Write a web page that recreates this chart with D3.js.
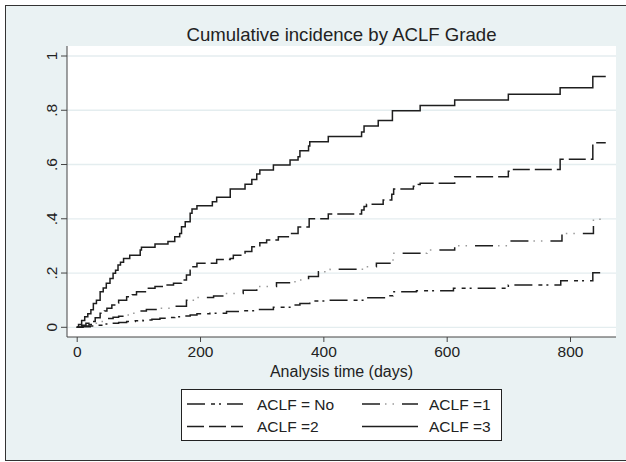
<!DOCTYPE html>
<html>
<head>
<meta charset="utf-8">
<script src="https://cdn.jsdelivr.net/npm/d3@7"></script>
<style>
  body { margin: 0; background: #fff; }
  svg { display: block; font-family: "Liberation Sans", Arial, sans-serif; }
</style>
</head>
<body>
<div id="chart"></div>
<script>
// event times (days) and cumulative incidence, one pair of arrays per grade
const timesNo = [0, 10, 22, 32, 45, 54, 68, 81, 95, 108, 122, 135, 150, 159, 172, 184, 195, 216, 243, 270, 292, 319, 351, 362, 378, 403, 470, 499, 513, 551, 611, 700, 785, 837];
const cifNo   = [0, .002, .005, .008, .012, .015, .018, .021, .024, .027, .03, .033, .036, .039, .042, .045, .05, .052, .058, .061, .066, .074, .082, .088, .097, .1, .109, .116, .131, .135, .144, .156, .172, .201];

const times1 = [0, 10, 20, 27, 35, 43, 52, 59, 68, 78, 88, 97, 113, 135, 157, 178, 192, 222, 243, 270, 292, 324, 354, 376, 392, 411, 465, 486, 508, 513, 568, 613, 703, 787, 838];
const cif1   = [0, .005, .01, .015, .021, .027, .032, .037, .041, .045, .052, .06, .066, .07, .078, .1, .11, .115, .125, .137, .15, .164, .174, .187, .205, .214, .223, .236, .244, .273, .285, .301, .318, .346, .398];

const times2 = [0, 8, 15, 22, 30, 38, 45, 49, 57, 63, 68, 81, 90, 97, 113, 127, 140, 157, 170, 178, 184, 187, 195, 227, 249, 254, 273, 284, 297, 308, 327, 346, 359, 377, 408, 462, 466, 470, 497, 511, 514, 546, 554, 557, 613, 700, 704, 784, 837];
const cif2   = [0, .008, .015, .021, .035, .052, .06, .07, .082, .09, .1, .113, .12, .131, .144, .15, .156, .162, .174, .193, .21, .223, .236, .25, .254, .266, .279, .297, .312, .322, .334, .346, .37, .4, .418, .432, .445, .454, .469, .49, .51, .52, .526, .531, .555, .575, .582, .619, .68];

const times3 = [0, 3, 8, 13, 18, 23, 27, 32, 38, 43, 48, 54, 59, 63, 67, 71, 76, 86, 103, 105, 127, 148, 159, 167, 170, 176, 184, 187, 195, 220, 227, 249, 273, 284, 292, 297, 319, 346, 359, 362, 376, 378, 408, 462, 466, 489, 512, 557, 613, 700, 784, 837];
const cif3   = [0, .01, .025, .039, .05, .065, .088, .1, .131, .145, .162, .18, .199, .21, .23, .24, .254, .266, .285, .295, .307, .316, .334, .346, .371, .389, .42, .436, .448, .463, .479, .51, .527, .545, .565, .58, .598, .617, .629, .651, .668, .684, .703, .72, .742, .762, .798, .818, .838, .859, .883, .924];

const lastTime = 858; // follow-up ends here for all groups
const seriesNames = ["ACLF = No", "ACLF =1", "ACLF =2", "ACLF =3"];
const xTicks = [0, 200, 400, 600, 800];
const yTicks = [0, .2, .4, .6, .8, 1];
const yTickLabels = ["0", ".2", ".4", ".6", ".8", "1"];

const W = 626, H = 462;
const bg = "#eaf2f3";
const ink = "#1e1e1e";

const svg = d3.select("#chart").append("svg")
  .attr("width", W)
  .attr("height", H);

// outer frame of the graph
svg.append("rect")
  .attr("x", 5.5).attr("y", 5.5)
  .attr("width", 625).attr("height", 455)
  .attr("fill", bg)
  .attr("stroke", "#333")
  .attr("stroke-width", 1);

// plot region
const plot = { left: 67, right: 616, top: 46, bottom: 337 };
svg.append("rect")
  .attr("x", plot.left).attr("y", plot.top)
  .attr("width", plot.right - plot.left)
  .attr("height", plot.bottom - plot.top)
  .attr("fill", "#fff");

const x = d3.scaleLinear().domain([0, 800]).range([76.7, 570]);
const y = d3.scaleLinear().domain([0, 1]).range([327.3, 56]);

// grid lines
svg.append("g")
  .selectAll("line")
  .data(yTicks)
  .join("line")
  .attr("x1", plot.left).attr("x2", plot.right)
  .attr("y1", d => y(d)).attr("y2", d => y(d))
  .attr("stroke", "#e4edef")
  .attr("stroke-width", 1.3);

// y axis
const yAxis = svg.append("g")
  .attr("transform", `translate(${plot.left},0)`)
  .call(d3.axisLeft(y).tickValues(yTicks).tickSize(6).tickPadding(4)
    .tickFormat((d, i) => yTickLabels[i]));
yAxis.select(".domain").attr("d", `M0,${plot.top}V${plot.bottom}`);
yAxis.selectAll("text")
  .attr("transform", d => `rotate(-90,-10,${y(d)})`)
  .attr("x", -10).attr("dy", 0)
  .attr("text-anchor", "middle")
  .attr("y", d => y(d));
yAxis.selectAll(".tick").attr("transform", null);
yAxis.selectAll(".tick line").attr("y1", d => y(d)).attr("y2", d => y(d));

// x axis
const xAxis = svg.append("g")
  .attr("transform", `translate(0,${plot.bottom})`)
  .call(d3.axisBottom(x).tickValues(xTicks).tickSize(5).tickPadding(4));
xAxis.select(".domain").attr("d", `M${plot.left},0H${plot.right}`);

svg.selectAll(".domain, .tick line").attr("stroke", "#444");
svg.selectAll(".tick text")
  .attr("fill", "#222")
  .style("font-size", "15.5px")
  .style("font-family", "Liberation Sans, Arial, sans-serif");

svg.append("text")
  .attr("x", (plot.left + plot.right) / 2)
  .attr("y", 377)
  .attr("text-anchor", "middle")
  .attr("fill", "#222")
  .style("font-size", "16px")
  .text("Analysis time (days)");

svg.append("text")
  .attr("x", (plot.left + plot.right) / 2)
  .attr("y", 41)
  .attr("text-anchor", "middle")
  .attr("fill", "#222")
  .style("font-size", "18.6px")
  .text("Cumulative incidence by ACLF Grade");

// curves
function steps(times, vals) {
  const pts = times.map((t, i) => [t, vals[i]]);
  pts.push([lastTime, vals[vals.length - 1]]);
  return pts;
}
const line = d3.line()
  .x(d => x(d[0]))
  .y(d => y(d[1]))
  .curve(d3.curveStepAfter);

const styles = [
  [{ dash: "18,6,4,4,2,6", color: ink }],
  [{ dash: "18,22", color: ink }, { dash: "0,23,1.5,6,1.5,8", color: "#9a9a9a" }],
  [{ dash: "17,5", color: ink }],
  [{ dash: null, color: ink }]
];
const series = [
  steps(timesNo, cifNo),
  steps(times1, cif1),
  steps(times2, cif2),
  steps(times3, cif3)
];

series.forEach((pts, i) => {
  styles[i].forEach(s => {
    svg.append("path")
      .datum(pts)
      .attr("d", line)
      .attr("fill", "none")
      .attr("stroke", s.color)
      .attr("stroke-width", 1.5)
      .attr("stroke-dasharray", s.dash);
  });
});

// legend
const legend = svg.append("g");
legend.append("rect")
  .attr("x", 181.5).attr("y", 389.5)
  .attr("width", 320).attr("height", 51)
  .attr("fill", "#fff")
  .attr("stroke", "#222");

const legendPos = [
  { lx: 187, tx: 257, y: 404 },
  { lx: 362, tx: 429, y: 404 },
  { lx: 187, tx: 257, y: 426.5 },
  { lx: 362, tx: 429, y: 426.5 }
];
seriesNames.forEach((name, i) => {
  const p = legendPos[i];
  styles[i].forEach(s => {
    legend.append("line")
      .attr("x1", p.lx).attr("x2", p.lx + 56)
      .attr("y1", p.y).attr("y2", p.y)
      .attr("stroke", s.color)
      .attr("stroke-width", 1.5)
      .attr("stroke-dasharray", s.dash);
  });
  legend.append("text")
    .attr("x", p.tx).attr("y", p.y + 5.5)
    .attr("fill", "#222")
    .style("font-size", "15.5px")
    .text(name);
});
</script>
</body>
</html>
